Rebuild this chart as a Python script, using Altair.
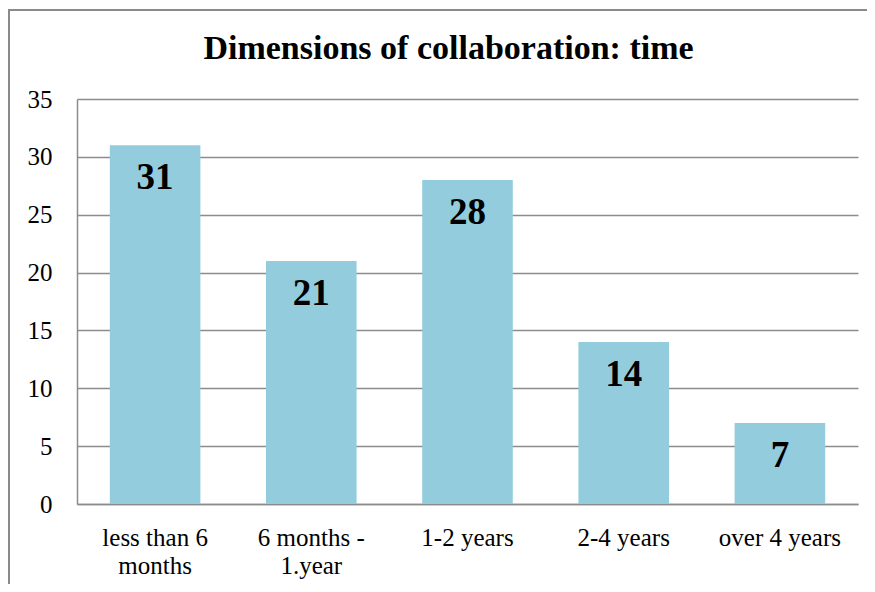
import altair as alt
import pandas as pd

categories = ["less than 6|months", "6 months -|1.year", "1-2 years", "2-4 years", "over 4 years"]
values = [31, 21, 28, 14, 7]
y_ticks = [0, 5, 10, 15, 20, 25, 30, 35]

df = pd.DataFrame({"cat": categories, "val": values})

FONT = "Liberation Serif"
GRID = "#8c8c8c"

x_enc = alt.X("cat:N", sort=categories, title=None,
              scale=alt.Scale(paddingInner=0.42, paddingOuter=0.21),
              axis=alt.Axis(labelExpr="split(datum.label, '|')", labelAngle=0,
                            labelFont=FONT, labelFontSize=25, labelColor="#000",
                            labelPadding=21, labelLineHeight=28, ticks=False,
                            domainColor=GRID, domainWidth=1.5))
y_enc = alt.Y("val:Q", title=None,
              scale=alt.Scale(domain=[0, 35], nice=False),
              axis=alt.Axis(values=y_ticks, labelFont=FONT, labelFontSize=25,
                            labelColor="#000", labelPadding=25, ticks=False,
                            grid=True, gridColor=GRID, gridWidth=1.5,
                            domainColor=GRID, domainWidth=1.5))

bars = alt.Chart(df).mark_bar(color="#93CDDD").encode(x=x_enc, y=y_enc)
labels = alt.Chart(df).mark_text(font=FONT, fontWeight="bold", fontSize=37,
                                 baseline="middle", dy=33, color="#000").encode(
    x=alt.X("cat:N", sort=categories), y="val:Q", text="val:Q")

frame = alt.Chart(pd.DataFrame({"a": [0]})).mark_rect(
    filled=False, stroke="#8a8a8a", strokeWidth=2).encode(
    x=alt.value(-68), x2=alt.value(900), y=alt.value(-89), y2=alt.value(620))

chart = alt.layer(bars, labels, frame).properties(
    width=781, height=405,
    autosize=alt.AutoSizeParams(type="none"),
    padding={"left": 69, "top": 91, "right": 9, "bottom": 80},
    title=alt.TitleParams("Dimensions of collaboration: time", font=FONT,
                          fontSize=34, fontWeight="bold", color="#000",
                          anchor="middle", frame="group", dx=-19, offset=-57),
).configure_view(stroke=None)

chart.save("out.html", embed_options={"renderer": "svg", "actions": False})
